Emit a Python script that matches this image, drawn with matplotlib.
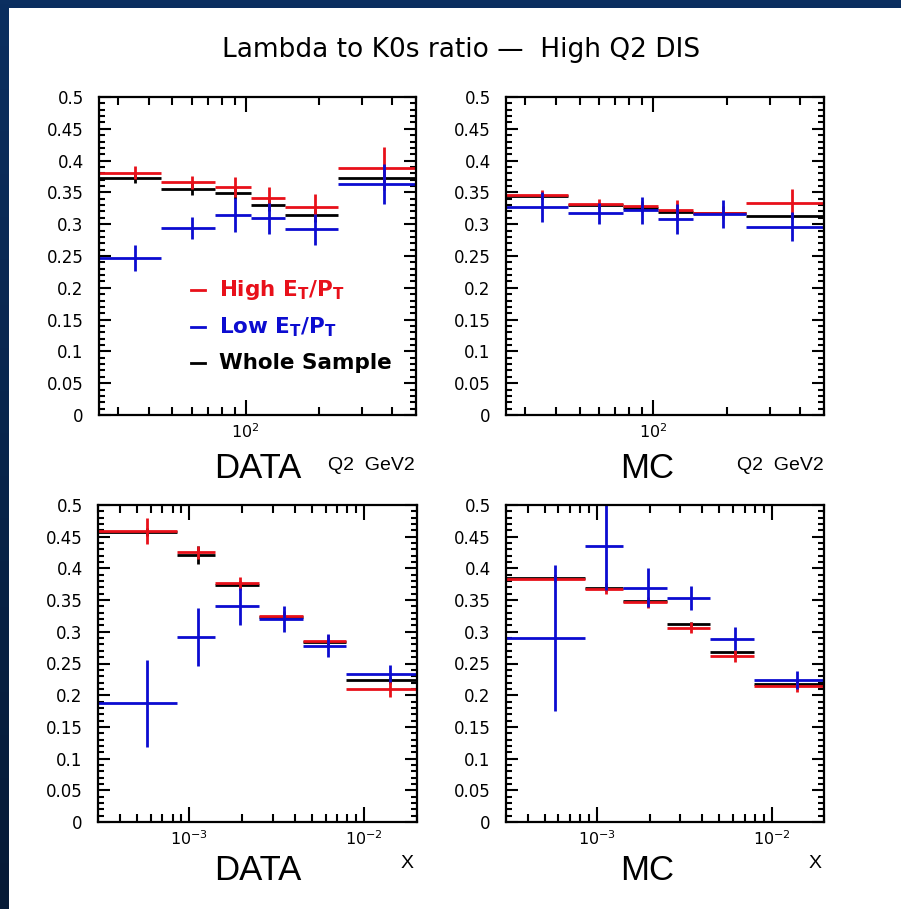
import numpy as np
import matplotlib
matplotlib.use('Agg')
import matplotlib.pyplot as plt
from matplotlib.ticker import MultipleLocator, FuncFormatter, LogLocator, NullFormatter
from matplotlib.patches import Rectangle
from matplotlib.lines import Line2D
from matplotlib.colors import LinearSegmentedColormap

W, H = 901, 909

# ---------------- data ----------------
q2_edges = [25, 45, 75, 105, 145, 240, 500]
x_edges = [3e-4, 8.5e-4, 1.4e-3, 2.5e-3, 4.45e-3, 7.9e-3, 2e-2]

# DATA vs Q2
dq_high = [0.381, 0.366, 0.358, 0.341, 0.327, 0.388]
dq_high_err = [0.010, 0.010, 0.016, 0.017, 0.021, 0.034]
dq_low = [0.247, 0.2945, 0.3145, 0.309, 0.292, 0.363]
dq_low_err = [0.020, 0.017, 0.026, 0.025, 0.024, 0.032]
dq_all = [0.373, 0.355, 0.3485, 0.330, 0.314, 0.372]
dq_all_err = [0.008, 0.009, 0.009, 0.010, 0.010, 0.012]

# MC vs Q2
mq_high = [0.346, 0.332, 0.328, 0.3226, 0.318, 0.333]
mq_high_err = [0.007, 0.008, 0.009, 0.015, 0.010, 0.022]
mq_low = [0.327, 0.317, 0.322, 0.308, 0.316, 0.296]
mq_low_err = [0.024, 0.017, 0.021, 0.023, 0.022, 0.023]
mq_all = [0.344, 0.330, 0.326, 0.319, 0.317, 0.313]
mq_all_err = [0.004, 0.004, 0.004, 0.004, 0.004, 0.005]

# DATA vs x
dx_high = [0.459, 0.4254, 0.3766, 0.3256, 0.2857, 0.2096]
dx_high_err = [0.021, 0.010, 0.010, 0.007, 0.010, 0.013]
dx_low = [0.187, 0.292, 0.340, 0.320, 0.2778, 0.2342]
dx_low_err = [0.069, 0.046, 0.029, 0.020, 0.018, 0.014]
dx_all = [0.457, 0.4207, 0.374, 0.324, 0.2847, 0.2232]
dx_all_err = [0.006, 0.014, 0.006, 0.005, 0.006, 0.006]

# MC vs x
mx_high = [0.384, 0.368, 0.3466, 0.3067, 0.262, 0.2143]
mx_high_err = [0.006, 0.009, 0.009, 0.0085, 0.010, 0.010]
mx_low = [0.290, 0.4354, 0.3697, 0.354, 0.2889, 0.2243]
mx_low_err = [0.1155, 0.070, 0.031, 0.019, 0.018, 0.014]
mx_all = [0.385, 0.369, 0.348, 0.312, 0.268, 0.218]
mx_all_err = [0.004, 0.004, 0.004, 0.004, 0.004, 0.004]

RED = '#e8101a'
BLUE = '#0c0cd0'
BLACK = '#000000'

fig = plt.figure(figsize=(W / 100, H / 100), dpi=100)
fig.patch.set_facecolor('white')

# background frame (dark blue border)
bg = fig.add_axes([0, 0, 1, 1], zorder=-10)
cmap = LinearSegmentedColormap.from_list('bgc', ['#0b2f60', '#061a36'])
grad = np.linspace(0, 1, 256).reshape(-1, 1)
bg.imshow(grad, aspect='auto', cmap=cmap, extent=[0, 1, 0, 1], origin='upper')
bg.add_patch(Rectangle((9 / W, 0), 1, 1 - 8 / H, facecolor='white', edgecolor='none'))
bg.set_xlim(0, 1)
bg.set_ylim(0, 1)
bg.axis('off')


def px_axes(x0, y0, x1, y1):
    return fig.add_axes([x0 / W, 1 - y1 / H, (x1 - x0) / W, (y1 - y0) / H])


def style(ax, xlim):
    ax.set_xscale('log')
    ax.set_xlim(*xlim)
    ax.set_ylim(0, 0.5)
    ax.yaxis.set_major_locator(MultipleLocator(0.05))
    ax.yaxis.set_minor_locator(MultipleLocator(0.01))
    ax.yaxis.set_major_formatter(FuncFormatter(lambda v, p: '%g' % round(v, 3)))
    ax.xaxis.set_major_locator(LogLocator(base=10, numticks=10))
    ax.xaxis.set_minor_locator(LogLocator(base=10, subs=np.arange(2, 10), numticks=20))
    ax.xaxis.set_minor_formatter(NullFormatter())
    ax.tick_params(which='both', direction='in', top=True, right=True, width=1.5, color='black')
    ax.tick_params(axis='y', which='major', length=8.5, pad=11, labelsize=12)
    ax.tick_params(axis='y', which='minor', length=4.5)
    ax.tick_params(axis='x', which='major', length=11, pad=5, labelsize=11.5)
    ax.tick_params(axis='x', which='minor', length=6)
    for s in ax.spines.values():
        s.set_linewidth(1.6)


def draw(ax, edges, series):
    e = np.array(edges, dtype=float)
    c = 0.5 * (e[:-1] + e[1:])
    for vals, errs, col in series:
        ax.errorbar(c, vals, xerr=[c - e[:-1], e[1:] - c], yerr=errs, fmt='none',
                    ecolor=col, elinewidth=2.0, capsize=0)


ax1 = px_axes(99, 97, 416, 415)
ax2 = px_axes(506, 97, 824, 415)
ax3 = px_axes(98, 505, 417, 822)
ax4 = px_axes(506, 505, 824, 822)

style(ax1, (q2_edges[0], q2_edges[-1]))
style(ax2, (q2_edges[0], q2_edges[-1]))
style(ax3, (x_edges[0], x_edges[-1]))
style(ax4, (x_edges[0], x_edges[-1]))

draw(ax1, q2_edges, [(dq_all, dq_all_err, BLACK), (dq_high, dq_high_err, RED), (dq_low, dq_low_err, BLUE)])
draw(ax2, q2_edges, [(mq_all, mq_all_err, BLACK), (mq_high, mq_high_err, RED), (mq_low, mq_low_err, BLUE)])
draw(ax3, x_edges, [(dx_all, dx_all_err, BLACK), (dx_high, dx_high_err, RED), (dx_low, dx_low_err, BLUE)])
draw(ax4, x_edges, [(mx_all, mx_all_err, BLACK), (mx_high, mx_high_err, RED), (mx_low, mx_low_err, BLUE)])

# legend in first panel
leg_items = [(r'High E$_{\mathbf{T}}$/P$_{\mathbf{T}}$', RED, 290),
             (r'Low E$_{\mathbf{T}}$/P$_{\mathbf{T}}$', BLUE, 327),
             ('Whole Sample', BLACK, 363)]
for txt, col, py in leg_items:
    yf = 1 - (py - 97) / 318
    ax1.add_line(Line2D([(191 - 99) / 317, (205 - 99) / 317], [yf, yf], transform=ax1.transAxes,
                        color=col, lw=2.0))
    ax1.text((219 - 99) / 317, yf, txt, transform=ax1.transAxes, color=col, fontsize=15.5,
             fontweight='bold', va='center', ha='left', family='DejaVu Sans')

# title
fig.text(461 / W, 1 - 50 / H, 'Lambda to K0s ratio \u2014  High Q2 DIS', ha='center', va='center',
         fontsize=19, family='DejaVu Sans')

big = ['Liberation Sans']
for cx, by in [(258, 478), (258, 880)]:
    fig.text(cx / W, 1 - by / H, 'DATA', ha='center', va='baseline', fontsize=25, family=big)
for cx, by in [(647, 478), (647, 880)]:
    fig.text(cx / W, 1 - by / H, 'MC', ha='center', va='baseline', fontsize=25, family=big)
for rx in [415, 824]:
    fig.text(rx / W, 1 - 470 / H, 'Q2  GeV2', ha='right', va='baseline', fontsize=14, family=big)
for rx in [414, 822]:
    fig.text(rx / W, 1 - 868 / H, 'X', ha='right', va='baseline', fontsize=14, family=big)

fig.savefig('out.png', dpi=100, facecolor=fig.get_facecolor())
